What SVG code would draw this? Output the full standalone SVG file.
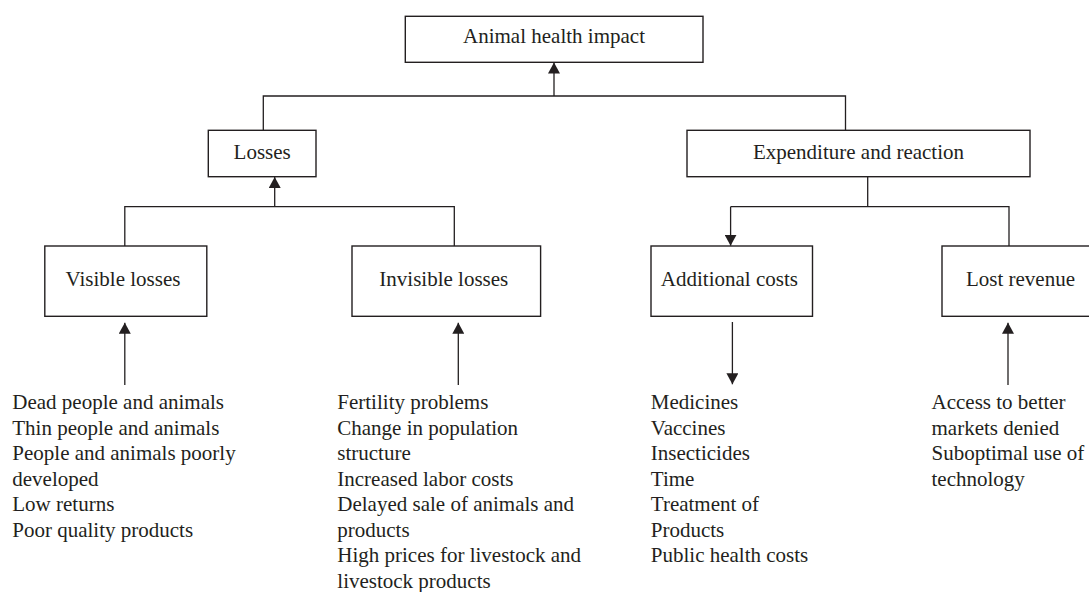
<svg xmlns="http://www.w3.org/2000/svg" width="1089" height="592" viewBox="0 0 1089 592">
  <style>
    .box { fill: #ffffff; stroke: #231f20; stroke-width: 1.4; }
    .lbl { font-family: "Liberation Serif", "Times New Roman", serif; font-size: 21px; fill: #231f20; text-anchor: middle; }
    .lst { font-family: "Liberation Serif", "Times New Roman", serif; font-size: 21px; fill: #231f20; }
    .ln { fill: none; stroke: #231f20; stroke-width: 1.3; }
    .ar { fill: none; stroke: #231f20; stroke-width: 1.3; marker-end: url(#ah); }
  </style>
  <defs>
    <marker id="ah" viewBox="0 0 11 12" refX="11" refY="6" markerWidth="11" markerHeight="12" markerUnits="userSpaceOnUse" orient="auto">
      <path d="M0,0 L11,6 L0,12 Z" fill="#231f20"/>
    </marker>
  </defs>
  <rect width="1089" height="592" fill="#ffffff"/>

  <g id="connectors">
    <path class="ln" d="M263.3,130 V96 H845.5 V130"/>
    <path class="ar" d="M554,96 V62.5"/>
    <path class="ln" d="M124.8,246 V206.7 H454.3 V246"/>
    <path class="ar" d="M274.7,206.7 V177"/>
    <path class="ln" d="M867.7,177 V206.7"/>
    <path class="ln" d="M730.6,206.7 H1009 V246"/>
    <path class="ar" d="M730.6,206.7 V245.7"/>
    <path class="ar" d="M124.8,385 V322.7"/>
    <path class="ar" d="M458.3,385 V322.7"/>
    <path class="ar" d="M732.4,322 V384.3"/>
    <path class="ar" d="M1008,385 V322.7"/>
  </g>

  <g id="node-animal-health-impact">
    <rect class="box" x="405.3" y="16.3" width="297.7" height="46"/>
    <text class="lbl" x="554" y="43.3">Animal health impact</text>
  </g>

  <g id="node-losses">
    <rect class="box" x="208.3" y="130.3" width="107.7" height="46.4"/>
    <text class="lbl" x="262.2" y="159.3">Losses</text>
  </g>

  <g id="node-expenditure">
    <rect class="box" x="687" y="130.3" width="343" height="46.4"/>
    <text class="lbl" x="858.5" y="159.3">Expenditure and reaction</text>
  </g>

  <g id="node-visible-losses">
    <rect class="box" x="44.8" y="246" width="162" height="70.3"/>
    <text class="lbl" x="123" y="286">Visible losses</text>
  </g>

  <g id="node-invisible-losses">
    <rect class="box" x="352" y="246" width="188.6" height="70.3"/>
    <text class="lbl" x="443.8" y="286">Invisible losses</text>
  </g>

  <g id="node-additional-costs">
    <rect class="box" x="651" y="246" width="161.5" height="70.3"/>
    <text class="lbl" x="729.4" y="286">Additional costs</text>
  </g>

  <g id="node-lost-revenue">
    <rect class="box" x="942" y="246" width="160" height="70.3"/>
    <text class="lbl" x="1020.5" y="286">Lost revenue</text>
  </g>

  <g id="list-visible">
    <text class="lst" x="12.3" y="409">Dead people and animals</text>
    <text class="lst" x="12.3" y="434.5">Thin people and animals</text>
    <text class="lst" x="12.3" y="460">People and animals poorly</text>
    <text class="lst" x="12.3" y="485.5">developed</text>
    <text class="lst" x="12.3" y="511">Low returns</text>
    <text class="lst" x="12.3" y="536.5">Poor quality products</text>
  </g>

  <g id="list-invisible">
    <text class="lst" x="337.3" y="409">Fertility problems</text>
    <text class="lst" x="337.3" y="434.5">Change in population</text>
    <text class="lst" x="337.3" y="460">structure</text>
    <text class="lst" x="337.3" y="485.5">Increased labor costs</text>
    <text class="lst" x="337.3" y="511">Delayed sale of animals and</text>
    <text class="lst" x="337.3" y="536.5">products</text>
    <text class="lst" x="337.3" y="562">High prices for livestock and</text>
    <text class="lst" x="337.3" y="587.5">livestock products</text>
  </g>

  <g id="list-additional">
    <text class="lst" x="650.8" y="409">Medicines</text>
    <text class="lst" x="650.8" y="434.5">Vaccines</text>
    <text class="lst" x="650.8" y="460">Insecticides</text>
    <text class="lst" x="650.8" y="485.5">Time</text>
    <text class="lst" x="650.8" y="511">Treatment of</text>
    <text class="lst" x="650.8" y="536.5">Products</text>
    <text class="lst" x="650.8" y="562">Public health costs</text>
  </g>

  <g id="list-lost-revenue">
    <text class="lst" x="931.5" y="409">Access to better</text>
    <text class="lst" x="931.5" y="434.5">markets denied</text>
    <text class="lst" x="931.5" y="460">Suboptimal use of</text>
    <text class="lst" x="931.5" y="485.5">technology</text>
  </g>
</svg>
